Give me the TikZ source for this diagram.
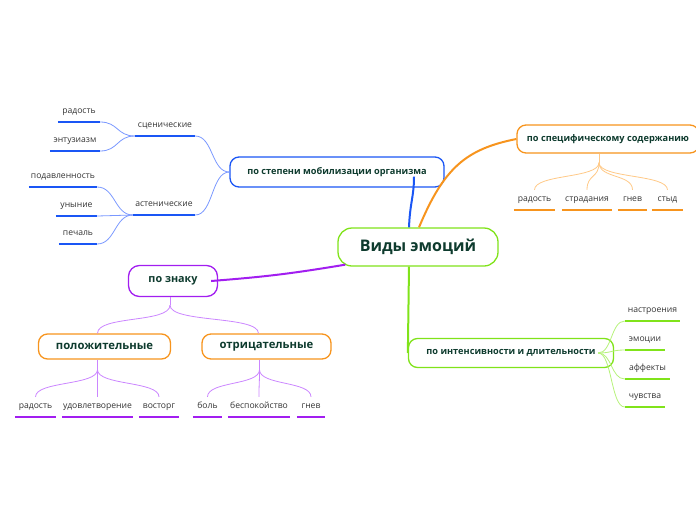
\documentclass[tikz,border=0pt]{standalone}
\usepackage{fontspec}
\setmainfont{Open Sans}
\usetikzlibrary{calc}
\definecolor{txtdark}{HTML}{0E3B2E}
\definecolor{leaftext}{HTML}{333333}
\definecolor{mblue}{HTML}{1A56F5}
\definecolor{mbluelt}{HTML}{7A98FF}
\definecolor{morange}{HTML}{F7941D}
\definecolor{morangelt}{HTML}{FFC987}
\definecolor{mgreen}{HTML}{80E31A}
\definecolor{mgreenlt}{HTML}{B6F27A}
\definecolor{mpurple}{HTML}{A21EF0}
\definecolor{mpurplelt}{HTML}{CB86FF}
\tikzset{
topic/.style={draw=#1,line width=1.3pt,rounded corners=9pt,fill=white,text=txtdark,inner sep=0pt,font=\bfseries\fontsize{9.2}{11}\selectfont},
leaf/.style={text=leaftext,font=\fontsize{8.6}{10}\selectfont,inner sep=0pt,text height=11pt,text depth=8.7pt,anchor=south},
uline/.style={draw=#1,line width=2.5pt},
twig/.style={draw=#1,line width=0.8pt},
trunk/.style={draw=#1,line width=2pt}
}
\begin{document}
\begin{tikzpicture}[x=1pt,y=-1pt]
\useasboundingbox (0,0) rectangle (696,520);
\node[topic=mgreen,minimum width=160pt,minimum height=38pt,rounded corners=14pt,font=\bfseries\fontsize{16}{18}\selectfont] (root) at (418,247) {Виды эмоций};
\node[topic=mblue,minimum width=214pt,minimum height=30pt] (mob) at (337,172) {по степени мобилизации организма};
\node[topic=morange,minimum width=182pt,minimum height=28pt] (spec) at (608,139) {по специфическому содержанию};
\node[topic=mgreen,minimum width=205pt,minimum height=29pt] (intens) at (511,353) {по интенсивности и длительности};
\node[topic=mpurple,minimum width=89pt,minimum height=31pt,rounded corners=11pt,font=\bfseries\fontsize{10.8}{12}\selectfont] (znak) at (173,281) {по знаку};
\node[topic=morange,minimum width=132pt,minimum height=25pt,font=\bfseries\fontsize{11.3}{13}\selectfont] (pos) at (104.5,346.5) {положительные};
\node[topic=morange,minimum width=129pt,minimum height=25pt,font=\bfseries\fontsize{11.3}{13}\selectfont] (neg) at (266.5,346.5) {отрицательные};

\node[leaf,minimum width=60pt] (scen) at (165,136) {сценические};
\node[leaf,minimum width=62pt] (asten) at (164,215) {астенические};
\node[leaf,minimum width=42pt] (bjoy) at (79,122) {радость};
\node[leaf,minimum width=50pt] (bentuz) at (75,151) {энтузиазм};
\node[leaf,minimum width=68pt] (bpodav) at (63,187) {подавленность};
\node[leaf,minimum width=41pt] (bunyn) at (76.5,216) {уныние};
\node[leaf,minimum width=38pt] (bsad) at (78,244) {печаль};
\foreach \n in {scen,asten,bjoy,bentuz,bpodav,bunyn,bsad}
  \draw[uline=mblue] (\n.south west) -- (\n.south east);

\node[leaf,minimum width=41pt] (ojoy) at (534.5,210) {радость};
\node[leaf,minimum width=50pt] (osuff) at (587,210) {страдания};
\node[leaf,minimum width=29pt] (oanger) at (632.5,210) {гнев};
\node[leaf,minimum width=31pt] (oshame) at (667.5,210) {стыд};
\foreach \n in {ojoy,osuff,oanger,oshame}
  \draw[uline=morange] (\n.south west) -- (\n.south east);

\node[leaf,minimum width=55pt] (gmood) at (652.5,321) {настроения};
\node[leaf,minimum width=40pt] (gemo) at (645,350) {эмоции};
\node[leaf,minimum width=45pt] (gaff) at (647.5,379) {аффекты};
\node[leaf,minimum width=40pt] (gfeel) at (645,407) {чувства};
\foreach \n in {gmood,gemo,gaff,gfeel}
  \draw[uline=mgreen] (\n.south west) -- (\n.south east);

\node[leaf,minimum width=41pt] (pjoy) at (35.5,417) {радость};
\node[leaf,minimum width=71pt] (psatis) at (97.5,417) {удовлетворение};
\node[leaf,minimum width=40pt] (pdelight) at (159,417) {восторг};
\node[leaf,minimum width=29pt] (npain) at (207.5,417) {боль};
\node[leaf,minimum width=62pt] (nworry) at (259,417) {беспокойство};
\node[leaf,minimum width=28pt] (nanger) at (311,417) {гнев};
\foreach \n in {pjoy,psatis,pdelight,npain,nworry,nanger}
  \draw[uline=mpurple] (\n.south west) -- (\n.south east);

\draw[trunk=mblue] ([xshift=-9pt]root.north) .. controls +(1,-25) and +(0,20) .. ([xshift=77pt,yshift=11pt]mob.south);
\draw[trunk=morange] ([xshift=1pt]root.north) .. controls +(25,-60) and +(-50,10) .. (spec.west);
\draw[trunk=mgreen] ([xshift=-9pt]root.south) -- (intens.west);
\draw[trunk=mpurple] ([xshift=8pt,yshift=2pt]root.south west) .. controls +(-60,10) and +(50,-4) .. ([xshift=-7pt]znak.east);

\foreach \n in {scen,asten}
  \draw[twig=mbluelt] (mob.west) .. controls +(-18,0) and +(18,0) .. (\n.south east);
\foreach \n in {bjoy,bentuz}
  \draw[twig=mbluelt] (scen.south west) .. controls +(-18,0) and +(18,0) .. (\n.south east);
\foreach \n in {bpodav,bunyn,bsad}
  \draw[twig=mbluelt] (asten.south west) .. controls +(-18,0) and +(18,0) .. (\n.south east);

\coordinate (specfork) at ($([xshift=-9pt]spec.south)+(0,9)$);
\draw[twig=morangelt] ([xshift=-9pt]spec.south) -- (specfork);
\foreach \n in {ojoy,osuff,oanger,oshame}
  \draw[twig=morangelt] (specfork) .. controls +(0,16) and +(0,-16) .. (\n.north);

\foreach \n in {gmood,gemo,gaff,gfeel}
  \draw[twig=mgreenlt] ([xshift=-16pt]intens.east) .. controls +(14,0) and +(-14,0) .. (\n.south west);

\coordinate (znakfork) at ($([xshift=-3pt]znak.south)+(0,8)$);
\draw[twig=mpurplelt] ([xshift=-3pt]znak.south) -- (znakfork);
\draw[twig=mpurplelt] (znakfork) .. controls +(0,18) and +(0,-18) .. ([xshift=-7pt]pos.north);
\draw[twig=mpurplelt] (znakfork) .. controls +(0,18) and +(0,-18) .. ([xshift=-8pt]neg.north);

\coordinate (posfork) at ($([xshift=-7pt]pos.south)+(0,10)$);
\draw[twig=mpurplelt] ([xshift=-7pt]pos.south) -- (posfork);
\foreach \n in {pjoy,psatis,pdelight}
  \draw[twig=mpurplelt] (posfork) .. controls +(0,16) and +(0,-16) .. (\n.north);
\coordinate (negfork) at ($([xshift=-7pt]neg.south)+(0,10)$);
\draw[twig=mpurplelt] ([xshift=-7pt]neg.south) -- (negfork);
\foreach \n in {npain,nworry,nanger}
  \draw[twig=mpurplelt] (negfork) .. controls +(0,16) and +(0,-16) .. (\n.north);
\end{tikzpicture}
\end{document}
